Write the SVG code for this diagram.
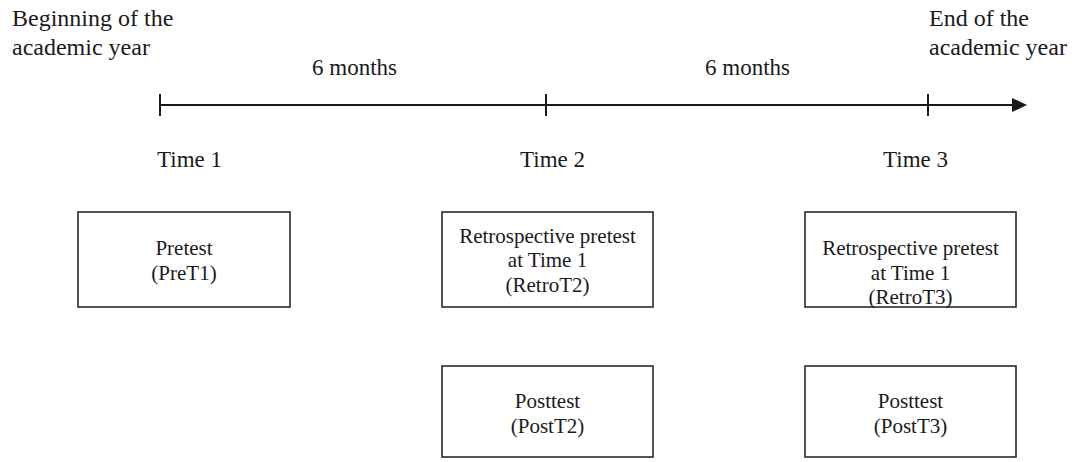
<svg xmlns="http://www.w3.org/2000/svg" width="1072" height="462" viewBox="0 0 1072 462">
<style>
text{font-family:'Liberation Serif','DejaVu Serif',serif;fill:#1a1a1a}
.lbl{font-size:23px}
.corner{font-size:24px}
.box{fill:#fff;stroke:#2a2a2a;stroke-width:1.6}
.bt{font-size:21px;text-anchor:middle}
.axis{stroke:#1a1a1a;stroke-width:2;fill:none}
</style>
<rect width="1072" height="462" fill="#fff"/>
<g id="labels">
<text class="corner" x="12" y="26">Beginning of the</text>
<text class="corner" x="12" y="55">academic year</text>
<text class="corner" x="929" y="26">End of the</text>
<text class="corner" x="929" y="55">academic year</text>
<text class="lbl" x="312" y="75">6 months</text>
<text class="lbl" x="705" y="75">6 months</text>
<text class="lbl" x="157" y="167">Time 1</text>
<text class="lbl" x="520" y="167">Time 2</text>
<text class="lbl" x="883" y="167">Time 3</text>
</g>
<g id="connectors">
<path class="axis" d="M160,105 H1012"/>
<path d="M1012,98 L1027,105 L1012,112 z" fill="#1a1a1a"/>
<path class="axis" d="M160,94 V116"/>
<path class="axis" d="M546,94 V116"/>
<path class="axis" d="M928,94 V116"/>
</g>
<g id="pretest">
<rect class="box" x="78" y="212" width="212" height="95"/>
<text class="bt" x="184" y="255">Pretest</text>
<text class="bt" x="184" y="280">(PreT1)</text>
</g>
<g id="retro2">
<rect class="box" x="442" y="212" width="211" height="95"/>
<text class="bt" x="547.5" y="243">Retrospective pretest</text>
<text class="bt" x="547.5" y="267">at Time 1</text>
<text class="bt" x="547.5" y="292">(RetroT2)</text>
</g>
<g id="retro3">
<rect class="box" x="805" y="212" width="211" height="95"/>
<text class="bt" x="910.5" y="255">Retrospective pretest</text>
<text class="bt" x="910.5" y="280">at Time 1</text>
<text class="bt" x="910.5" y="304">(RetroT3)</text>
</g>
<g id="post2">
<rect class="box" x="442" y="366" width="211" height="91"/>
<text class="bt" x="547.5" y="408">Posttest</text>
<text class="bt" x="547.5" y="433">(PostT2)</text>
</g>
<g id="post3">
<rect class="box" x="805" y="366" width="211" height="91"/>
<text class="bt" x="910.5" y="408">Posttest</text>
<text class="bt" x="910.5" y="433">(PostT3)</text>
</g>
</svg>
